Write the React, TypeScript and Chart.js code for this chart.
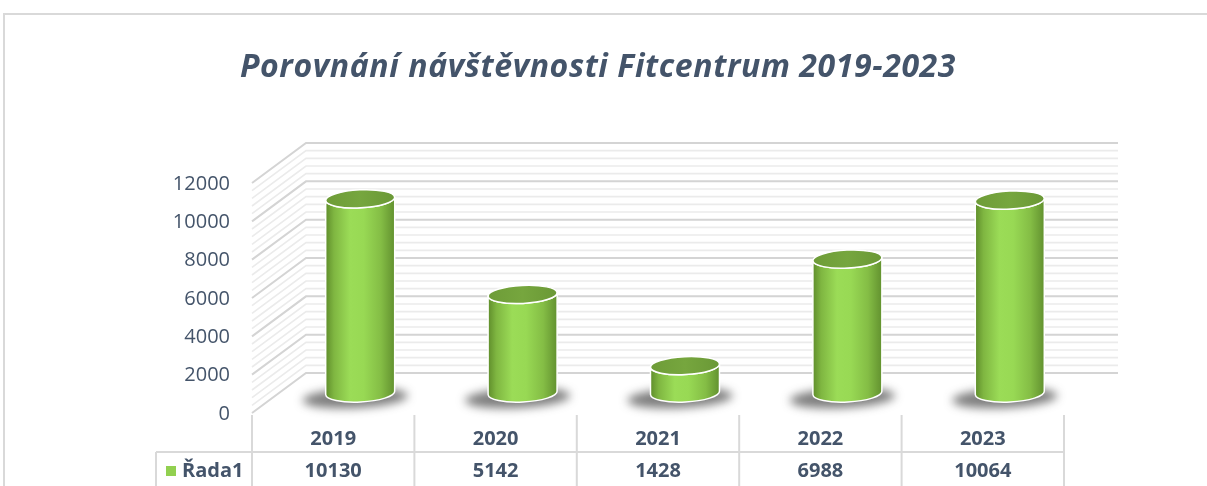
import React, { useEffect, useRef } from 'react';
import { Chart, registerables } from 'chart.js';

Chart.register(...registerables);

const categories = ['2019', '2020', '2021', '2022', '2023'];
const seriesName = 'Řada1';
const visits = [10130, 5142, 1428, 6988, 10064];
const yMax = 12000;
const yStep = 2000;
const minorDivisions = 5;
const titleText = 'Porovnání návštěvnosti Fitcentrum 2019-2023';

const DX = 27;
const DY = 20;
const TEXT = '#44546A';
const FONT = '"Open Sans", Lato, sans-serif';

const depthPlugin = {
  id: 'depthPlugin',
  beforeDatasetsDraw(chart: any) {
    const { ctx, chartArea, scales } = chart;
    const y = scales.y;
    ctx.save();
    // outer frame
    ctx.strokeStyle = '#d9d9d9';
    ctx.lineWidth = 2;
    ctx.beginPath();
    ctx.moveTo(4, 490);
    ctx.lineTo(4, 14);
    ctx.lineTo(1210, 14);
    ctx.stroke();

    // title
    ctx.save();
    ctx.fillStyle = TEXT;
    ctx.font = `italic bold 32px ${FONT}`;
    try {
      (ctx as any).letterSpacing = '0.6px';
    } catch (e) {}
    ctx.textAlign = 'center';
    ctx.textBaseline = 'middle';
    ctx.fillText(titleText, 598, 68);
    ctx.restore();

    const fl = chartArea.left - DX;
    const bl = chartArea.left + DX;
    const br = chartArea.right + DX;
    const minorStep = yStep / minorDivisions;
    for (let v = 0; v <= yMax; v += minorStep) {
      const py = y.getPixelForValue(v);
      const major = v % yStep === 0;
      ctx.strokeStyle = major ? '#d4d4d4' : '#ebebeb';
      ctx.lineWidth = major ? 2 : 1.6;
      ctx.beginPath();
      ctx.moveTo(fl, py + DY);
      ctx.lineTo(bl, py - DY);
      ctx.lineTo(br, py - DY);
      ctx.stroke();
    }
    ctx.restore();
  },
  afterDatasetsDraw(chart: any) {
    const { ctx, chartArea, scales } = chart;
    const x = scales.x;
    const y = scales.y;
    const meta = chart.getDatasetMeta(0);
    ctx.save();

    // cylinders
    meta.data.forEach((bar: any) => {
      const { x: cx, y: top, base, width } = bar.getProps(['x', 'y', 'base', 'width'], true);
      const rx = width / 2;
      const ry = 9;
      const rot = -0.05;
      const left = cx - rx;
      const right = cx + rx;

      // shadow
      ctx.save();
      ctx.filter = 'blur(5px)';
      ctx.fillStyle = 'rgba(45,45,45,0.62)';
      ctx.beginPath();
      ctx.ellipse(cx - 5, base + 5, rx + 18, ry + 1, -0.05, 0, Math.PI * 2);
      ctx.fill();
      ctx.restore();

      // body
      const g = ctx.createLinearGradient(left, 0, right, 0);
      g.addColorStop(0, '#5f8d2b');
      g.addColorStop(0.12, '#7fb641');
      g.addColorStop(0.35, '#9bdc57');
      g.addColorStop(0.55, '#98d954');
      g.addColorStop(0.8, '#84bd45');
      g.addColorStop(1, '#62912f');
      ctx.beginPath();
      ctx.moveTo(left, top);
      ctx.lineTo(left, base);
      ctx.ellipse(cx, base, rx, ry, rot, Math.PI, 0, true);
      ctx.lineTo(right, top);
      ctx.ellipse(cx, top, rx, ry, rot, 0, Math.PI, false);
      ctx.closePath();
      ctx.fillStyle = g;
      ctx.fill();
      ctx.strokeStyle = '#ffffff';
      ctx.lineWidth = 1.5;
      ctx.stroke();

      // top
      const tg = ctx.createLinearGradient(left, 0, right, 0);
      tg.addColorStop(0, '#6e9c38');
      tg.addColorStop(0.5, '#76a63e');
      tg.addColorStop(1, '#6a9836');
      ctx.beginPath();
      ctx.ellipse(cx, top, rx, ry, rot, 0, Math.PI * 2);
      ctx.fillStyle = tg;
      ctx.fill();
      ctx.strokeStyle = '#ffffff';
      ctx.lineWidth = 1.5;
      ctx.stroke();
    });

    // y tick labels on the front plane
    ctx.fillStyle = TEXT;
    ctx.font = `20px ${FONT}`;
    ctx.textAlign = 'right';
    ctx.textBaseline = 'middle';
    y.ticks.forEach((t: any) => {
      ctx.fillText(String(t.value), 230, y.getPixelForValue(t.value) + DY + 1);
    });

    // data table
    const fl = chartArea.left - DX;
    const fr = chartArea.right - DX;
    const colW = (fr - fl) / categories.length;
    const tableTop = chartArea.bottom + DY + 2;
    const rowLine = 452;
    const bottom = 490;
    ctx.strokeStyle = '#d9d9d9';
    ctx.lineWidth = 2;
    ctx.beginPath();
    for (let i = 0; i <= categories.length; i++) {
      const lx = fl + colW * i;
      ctx.moveTo(lx, tableTop);
      ctx.lineTo(lx, bottom);
    }
    ctx.moveTo(156, rowLine);
    ctx.lineTo(fr, rowLine);
    ctx.moveTo(156, rowLine);
    ctx.lineTo(156, bottom);
    ctx.stroke();

    ctx.fillStyle = TEXT;
    ctx.font = `bold 20px ${FONT}`;
    ctx.textAlign = 'center';
    ctx.textBaseline = 'middle';
    categories.forEach((c, i) => {
      const cxp = x.getPixelForTick(i) - DX;
      ctx.fillText(c, cxp, 439);
      ctx.fillText(String(visits[i]), cxp, 471);
    });
    ctx.fillStyle = '#92D050';
    ctx.fillRect(166, 466, 10, 10);
    ctx.fillStyle = TEXT;
    ctx.textAlign = 'left';
    ctx.fillText(seriesName, 182, 471);

    ctx.restore();
  },
};

export default function App() {
  const ref = useRef<HTMLCanvasElement>(null);
  useEffect(() => {
    if (!ref.current) return;
    const chart = new Chart(ref.current, {
      type: 'bar',
      data: {
        labels: categories,
        datasets: [
          {
            label: seriesName,
            data: visits,
            backgroundColor: 'rgba(0,0,0,0)',
            borderWidth: 0,
            barPercentage: 0.425,
            categoryPercentage: 1,
          },
        ],
      },
      options: {
        responsive: false,
        animation: false,
        layout: { padding: { left: 279, right: 116, top: 163, bottom: 93 } },
        plugins: {
          legend: { display: false },
          title: { display: false },
          tooltip: { enabled: false },
        },
        scales: {
          x: { display: false },
          y: { display: false, min: 0, max: yMax, ticks: { stepSize: yStep } },
        },
      },
      plugins: [depthPlugin],
    });
    return () => chart.destroy();
  }, []);
  return (
    <div style={{ position: 'absolute', left: 0, top: 0, width: 1207, height: 486, background: '#fff' }}>
      <canvas ref={ref} width={1207} height={486} style={{ display: 'block' }} />
    </div>
  );
}
